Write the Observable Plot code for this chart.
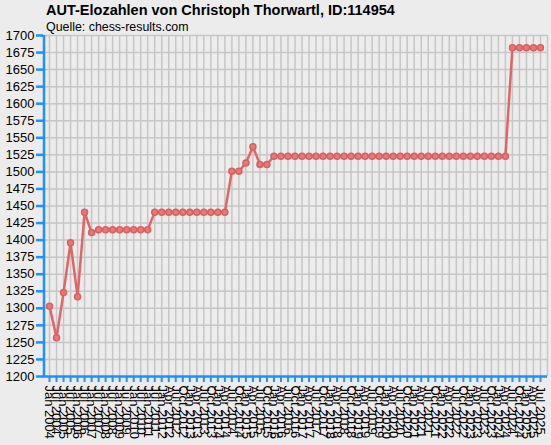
<!DOCTYPE html>
<html><head><meta charset="utf-8">
<script src="https://cdn.jsdelivr.net/npm/d3@7"></script>
<script src="https://cdn.jsdelivr.net/npm/@observablehq/plot@0.6"></script>
<style>
body{margin:0;background:#ececec;font-family:"Liberation Sans",Arial,sans-serif;}
#wrap{position:relative;width:551px;height:445px;overflow:hidden;}
#title{position:absolute;left:46px;top:2px;font-weight:bold;font-size:14.5px;white-space:nowrap;}
#sub{position:absolute;left:46px;top:20px;font-size:12.4px;white-space:nowrap;}
#chart{position:absolute;left:0;top:0;}
</style></head><body>
<div id="wrap"><div id="chart"></div>
<div id="title">AUT-Elozahlen von Christoph Thorwartl, ID:114954</div>
<div id="sub">Quelle: chess-results.com</div></div>
<script>
const periods = [
 "Jan 2004","Jul 2004","Jan 2005","Jul 2005","Jan 2006","Jul 2006","Jan 2007","Jul 2007",
 "Jan 2008","Jul 2008","Jan 2009","Jul 2009","Jan 2010","Jul 2010","Jan 2011","Jul 2011",
 "Jan 2012","Apr 2012","Jul 2012","Oct 2012","Jan 2013","Apr 2013","Jul 2013","Oct 2013",
 "Jan 2014","Apr 2014","Jul 2014","Oct 2014","Jan 2015","Apr 2015","Jul 2015","Oct 2015",
 "Jan 2016","Apr 2016","Jul 2016","Oct 2016","Jan 2017","Apr 2017","Jul 2017","Oct 2017",
 "Jan 2018","Apr 2018","Jul 2018","Oct 2018","Jan 2019","Apr 2019","Jul 2019","Oct 2019",
 "Jan 2020","Apr 2020","Jul 2020","Oct 2020","Jan 2021","Apr 2021","Jul 2021","Oct 2021",
 "Jan 2022","Apr 2022","Jul 2022","Oct 2022","Jan 2023","Apr 2023","Jul 2023","Oct 2023",
 "Jan 2024","Apr 2024","Jul 2024","Oct 2024","Jan 2025","Apr 2025","Jul 2025"
];
const elo = [
 1303,1257,1323,1396,1317,1441,1411,1415,
 1415,1415,1415,1415,1415,1415,1415,1441,
 1441,1441,1441,1441,1441,1441,1441,1441,
 1441,1441,1501,1501,1513,1537,1511,1511,
 1523,1523,1523,1523,1523,1523,1523,1523,
 1523,1523,1523,1523,1523,1523,1523,1523,
 1523,1523,1523,1523,1523,1523,1523,1523,
 1523,1523,1523,1523,1523,1523,1523,1523,
 1523,1523,1682,1682,1682,1682,1682
];
const yTicks = [1200,1225,1250,1275,1300,1325,1350,1375,1400,1425,1450,1475,1500,1525,1550,1575,1600,1625,1650,1675,1700];
const data = periods.map((p,i)=>({i, p, elo: elo[i]}));
const idx = periods.map((p,i)=>i);
const blue = "#1e90ff";
const chart = Plot.plot({
  width:551, height:445, marginLeft:42, marginRight:4, marginTop:35, marginBottom:69,
  style:{background:"transparent", fontFamily:"'Liberation Sans', Arial, sans-serif", fontSize:"13px", color:"#000"},
  x:{type:"linear", domain:[-1,71], axis:null},
  y:{domain:[1200,1700], axis:null},
  marks:[
    Plot.gridX([...idx, 71], {stroke:"#c6c6c6", strokeOpacity:1, strokeWidth:1.5}),
    Plot.gridY(yTicks.slice(1), {stroke:"#c6c6c6", strokeOpacity:1, strokeWidth:1.5}),
    Plot.line(data,{x:"i",y:"elo",stroke:"#e06666",strokeWidth:2.5}),
    Plot.dot(data,{x:"i",y:"elo",r:3,fill:"#e47a7a",stroke:"#da6060",strokeWidth:1.5}),
    Plot.axisY(yTicks, {label:null, tickFormat:d=>String(d), tickSize:7, stroke:blue, strokeWidth:2.5, tickPadding:2, fontSize:13, dx:1}),
    Plot.ruleX([-1], {stroke:blue, strokeWidth:2.5, dx:1.5}),
    Plot.ruleY([1200], {stroke:blue, strokeWidth:2.5}),
    Plot.axisX(idx, {label:null, tickSize:6, stroke:blue, strokeWidth:2, tickPadding:3, tickFormat: i=>periods[i], tickRotate:90, fontSize:13})
  ]
});
document.getElementById("chart").appendChild(chart);
</script>
</body></html>
